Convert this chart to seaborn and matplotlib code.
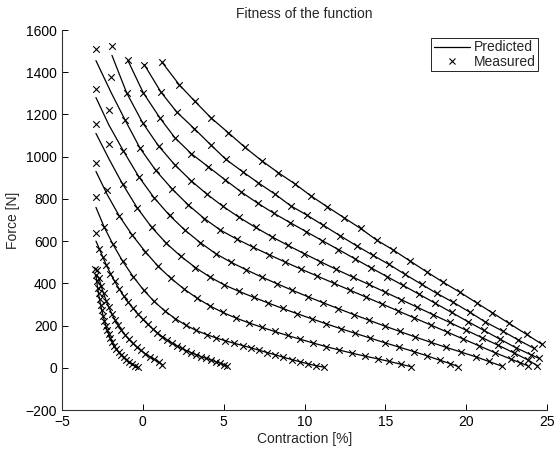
import numpy as np
import pandas as pd
import matplotlib
matplotlib.use("Agg")
import matplotlib.pyplot as plt
import seaborn as sns
from matplotlib.lines import Line2D

sns.set_theme(style="ticks")
plt.rcParams['font.family'] = ['Liberation Sans', 'DejaVu Sans']

# ---------------- data ----------------
a_x = [-2.95, -2.9, -2.85, -2.8, -2.74, -2.68, -2.61, -2.54, -2.46, -2.38, -2.29, -2.2, -2.1, -2.0, -1.89, -1.77, -1.64, -1.5, -1.35, -1.19, -1.02, -0.84, -0.66, -0.48, -0.32]
a_y = [470, 440, 410, 380, 352, 325, 298, 272, 247, 223, 200, 178, 158, 139, 121, 104, 88, 74, 61, 49, 38, 28, 19, 10, 2]

b_x = [-2.85, -2.72, -2.58, -2.43, -2.27, -2.1, -1.92, -1.73, -1.53, -1.32, -1.1, -0.87, -0.63, -0.38, -0.12, 0.15, 0.42, 0.7, 0.98, 1.2]
b_y = [465, 425, 388, 352, 318, 286, 256, 228, 202, 178, 156, 135, 116, 98, 82, 67, 53, 40, 27, 15]

c_x = [-2.9, -2.7, -2.48, -2.25, -2.0, -1.74, -1.47, -1.19, -0.9, -0.6, -0.3, 0.0, 0.3, 0.6, 0.9, 1.2, 1.5, 1.8, 2.1, 2.4, 2.7, 3.0, 3.3, 3.6, 3.9, 4.2, 4.5, 4.8, 5.0, 5.2]
c_y = [637, 565, 525, 485, 446, 409, 374, 341, 310, 281, 254, 229, 206, 185, 166, 148, 132, 117, 104, 92, 81, 71, 62, 53, 45, 37, 29, 21, 15, 9]

d_x = [-2.9, -2.4, -1.85, -1.25, -0.6, 0.05, 0.7, 1.35, 2.0, 2.65, 3.3, 3.95, 4.55, 5.1, 5.65, 6.2, 6.7, 7.2, 7.7, 8.2, 8.7, 9.2, 9.7, 10.2, 10.7, 11.2]
d_y = [810, 668, 585, 505, 432, 368, 314, 270, 233, 202, 177, 157, 141, 128, 116, 105, 94, 83, 72, 61, 50, 39, 29, 19, 10, 3]

e_x = [-2.9, -2.2, -1.45, -0.65, 0.15, 0.95, 1.75, 2.55, 3.35, 4.15, 4.95, 5.75, 6.55, 7.35, 8.15, 8.95, 9.75, 10.55, 11.35, 12.15, 12.95, 13.75, 14.55, 15.25, 15.95, 16.6]
e_y = [969, 840, 718, 628, 550, 480, 423, 373, 330, 293, 262, 236, 213, 192, 172, 153, 135, 117, 100, 84, 69, 55, 42, 30, 17, 5]

f_x = [-2.9, -2.1, -1.25, -0.35, 0.55, 1.45, 2.35, 3.25, 4.15, 5.05, 5.95, 6.85, 7.75, 8.65, 9.55, 10.45, 11.35, 12.25, 13.15, 14.05, 14.95, 15.85, 16.75, 17.6, 18.4, 19.0, 19.5]
f_y = [1155, 1060, 870, 758, 665, 590, 528, 475, 430, 392, 362, 334, 307, 281, 256, 232, 208, 185, 163, 141, 119, 98, 77, 56, 35, 20, 6]

g_x = [-2.9, -2.1, -1.2, -0.25, 0.7, 1.65, 2.6, 3.55, 4.5, 5.45, 6.4, 7.35, 8.3, 9.25, 10.2, 11.15, 12.1, 13.05, 14.0, 14.95, 15.9, 16.85, 17.8, 18.75, 19.7, 20.6, 21.4, 22.2]
g_y = [1320, 1221, 1027, 905, 805, 722, 652, 593, 541, 500, 464, 430, 398, 367, 337, 308, 280, 252, 225, 198, 172, 146, 121, 97, 74, 52, 30, 8]

h_x = [-2.9, -1.97, -1.1, -0.18, 0.8, 1.8, 2.8, 3.8, 4.8, 5.8, 6.8, 7.8, 8.8, 9.8, 10.8, 11.8, 12.8, 13.8, 14.8, 15.8, 16.8, 17.8, 18.8, 19.8, 20.8, 21.8, 22.8, 23.3, 23.8]
h_y = [1510, 1376, 1174, 1041, 935, 848, 772, 707, 652, 610, 572, 536, 501, 467, 434, 401, 368, 335, 302, 269, 236, 203, 170, 137, 104, 71, 40, 25, 10]

i_x = [-1.91, -1.0, 0.0, 0.97, 1.97, 2.97, 3.97, 4.97, 5.97, 6.97, 7.97, 8.97, 9.97, 10.97, 11.97, 12.97, 13.97, 14.97, 15.97, 16.97, 17.97, 18.97, 19.97, 20.97, 21.97, 22.97, 23.8, 24.4]
i_y = [1524, 1302, 1159, 1051, 962, 887, 822, 764, 712, 665, 621, 580, 541, 503, 466, 430, 395, 359, 323, 287, 251, 215, 179, 143, 107, 70, 38, 10]

j_x = [-0.92, 0.03, 1.06, 1.99, 3.0, 4.05, 5.1, 6.1, 7.1, 8.1, 9.1, 10.1, 11.1, 12.1, 13.1, 14.1, 15.1, 16.1, 17.1, 18.1, 19.1, 20.1, 21.1, 22.1, 23.1, 24.0, 24.5]
j_y = [1458, 1302, 1183, 1089, 1014, 952, 890, 832, 780, 732, 688, 645, 602, 560, 517, 474, 432, 390, 348, 305, 262, 219, 177, 135, 94, 62, 45]

k_x = [0.09, 1.12, 2.09, 3.18, 4.2, 5.14, 6.17, 7.14, 8.17, 9.15, 10.13, 11.16, 12.19, 13.22, 14.25, 15.22, 16.21, 17.25, 18.17, 19.2, 20.23, 21.16, 22.25, 23.22, 24.2]
k_y = [1436, 1306, 1212, 1133, 1056, 987, 929, 876, 823, 767, 724, 675, 626, 578, 532, 490, 443, 395, 353, 310, 263, 218, 174, 132, 92]

l_x = [1.18, 2.25, 3.22, 4.23, 5.28, 6.32, 7.35, 8.38, 9.41, 10.4, 11.4, 12.44, 13.47, 14.46, 15.49, 16.52, 17.55, 18.58, 19.61, 20.64, 21.61, 22.64, 23.74, 24.7]
l_y = [1448, 1341, 1262, 1183, 1114, 1044, 981, 924, 871, 814, 763, 711, 660, 605, 558, 506, 455, 405, 358, 308, 261, 211, 158, 111]

# predicted force where the model differs from the first measured samples of each curve
curve_names = ["A", "B", "C", "D", "E", "F", "G", "H", "I", "J", "K", "L"]
pred_head = [[440], [440], [600], [760], [930, 820], [1110, 990], [1280, 1150], [1455, 1305],
             [1480], [1455], [1436], [1448]]

x_ticks = [-5, 0, 5, 10, 15, 20, 25]
y_ticks = [-200, 0, 200, 400, 600, 800, 1000, 1200, 1400, 1600]

# ---------------- build tables ----------------
xs = [a_x, b_x, c_x, d_x, e_x, f_x, g_x, h_x, i_x, j_x, k_x, l_x]
ys = [a_y, b_y, c_y, d_y, e_y, f_y, g_y, h_y, i_y, j_y, k_y, l_y]

meas_rows, pred_rows = [], []
for name, cx_, cy_, head in zip(curve_names, xs, ys, pred_head):
    py_ = list(head) + list(cy_[len(head):])
    for xv, yv, pv in zip(cx_, cy_, py_):
        meas_rows.append((name, xv, yv))
        pred_rows.append((name, xv, pv))
meas = pd.DataFrame(meas_rows, columns=["curve", "x", "y"])
pred = pd.DataFrame(pred_rows, columns=["curve", "x", "y"])

# ---------------- plot ----------------
fig = plt.figure(figsize=(5.55, 4.5), dpi=100)
ax = fig.add_axes([62 / 555, 40 / 450, 485 / 555, 380 / 450])

sns.lineplot(data=pred, x="x", y="y", units="curve", estimator=None, sort=False,
             color="black", linewidth=0.9, ax=ax, legend=False)
sns.scatterplot(data=meas, x="x", y="y", marker="x", color="black", s=22,
                linewidth=0.8, ax=ax, legend=False, zorder=3)

ax.set_xlim(-5, 25)
ax.set_ylim(-200, 1600)
ax.set_xticks(x_ticks)
ax.set_yticks(y_ticks)
ax.tick_params(direction="in", length=4, width=0.7, labelsize=10, colors="black")
for s in ["top", "right"]:
    ax.spines[s].set_visible(False)
for s in ["left", "bottom"]:
    ax.spines[s].set_linewidth(0.8)
    ax.spines[s].set_color("#333333")

ax.set_xlabel("Contraction [%]", fontsize=10, labelpad=2)
ax.set_ylabel("Force [N]", fontsize=10, labelpad=4)
ax.set_title("Fitness of the function", fontsize=10, pad=9)

handles = [Line2D([0], [0], color="black", lw=0.9),
           Line2D([0], [0], color="black", lw=0, marker="x", markersize=4.5, markeredgewidth=0.8)]
leg = ax.legend(handles, ["Predicted", "Measured"], loc="upper right",
                bbox_to_anchor=(0.981, 0.978), borderaxespad=0, fontsize=10,
                frameon=True, fancybox=False, edgecolor="black", framealpha=1,
                handlelength=2.6, handletextpad=0.3, labelspacing=0.05, borderpad=0.15)
leg.get_frame().set_linewidth(0.6)

fig.savefig("out.png", dpi=100)
